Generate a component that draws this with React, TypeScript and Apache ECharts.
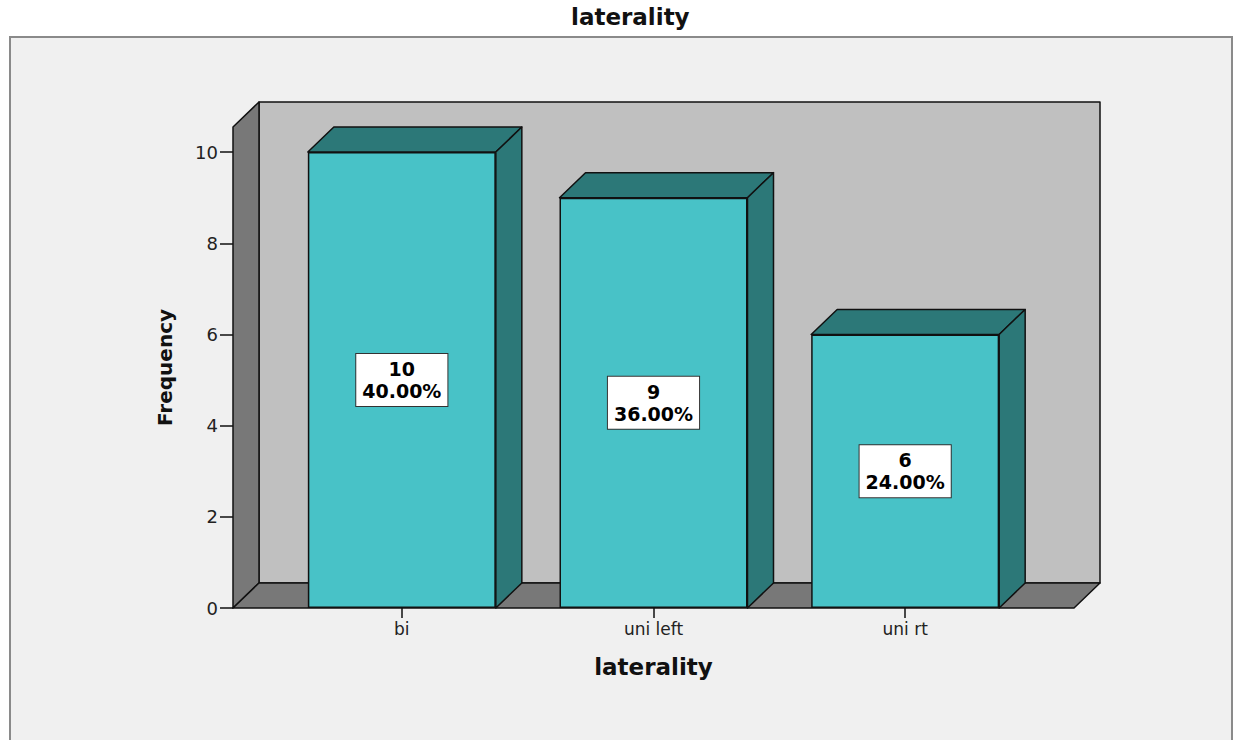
import React, { useEffect, useRef } from "react";
import * as echarts from "echarts";

const categories = ["bi", "uni left", "uni rt"];
const counts = [10, 9, 6];
const percents = [40.0, 36.0, 24.0];
const yTicks = [0, 2, 4, 6, 8, 10];
const Y_MAX = 10.55;

const DX = 26;
const DY = 25;
const PAD = 43;
const BAR_RATIO = 0.747;
const FRONT = "#48c2c7";
const DARK = "#2c7878";
const WALL = "#c0c0c0";
const WALL_DARK = "#787878";
const EDGE = "#111111";
const FONT = "DejaVu Sans";

export default function App() {
  const ref = useRef<HTMLDivElement>(null);
  useEffect(() => {
    if (!ref.current) return;
    const chart = echarts.init(ref.current, null, { renderer: "svg" });
    const option: any = {
      animation: false,
      backgroundColor: "#ffffff",
      title: {
        text: "laterality",
        left: 566,
        top: 0,
        textStyle: { fontFamily: FONT, fontWeight: "bold", fontSize: 23, color: "#111" },
      },
      graphic: [
        {
          type: "rect",
          z: -10,
          shape: { x: 10, y: 37, width: 1222, height: 720 },
          style: { fill: "#f0f0f0", stroke: "#8a8a8a", lineWidth: 2 },
        },
      ],
      grid: { left: 276, right: 208, top: 127, bottom: 132 },
      xAxis: {
        type: "category",
        data: categories,
        axisLine: { show: false },
        axisTick: { show: true, alignWithLabel: true, length: 10, lineStyle: { color: EDGE, width: 1.5 } },
        axisLabel: { fontFamily: FONT, fontSize: 17, color: "#222", margin: 12 },
        name: "laterality",
        nameLocation: "middle",
        nameGap: 47,
        nameTextStyle: { fontFamily: FONT, fontWeight: "bold", fontSize: 23, color: "#111" },
        z: 10,
      },
      yAxis: {
        type: "value",
        min: 0,
        max: Y_MAX,
        offset: PAD,
        splitLine: { show: false },
        axisLine: { show: false },
        axisTick: { show: true, length: 13, customValues: yTicks, lineStyle: { color: EDGE, width: 1.5 } },
        axisLabel: { fontFamily: FONT, fontSize: 18, color: "#222", margin: 15, customValues: yTicks },
        name: "Frequency",
        nameLocation: "middle",
        nameRotate: 90,
        nameGap: 58,
        nameTextStyle: { fontFamily: FONT, fontWeight: "bold", fontSize: 20, color: "#111" },
        z: 10,
      },
      series: [
        {
          type: "custom",
          z: 1,
          clip: false,
          silent: true,
          data: [[0, 0]],
          encode: { x: 0, y: 1 },
          renderItem: (params: any, api: any) => {
            const cs = params.coordSys;
            const y0 = api.coord([0, 0])[1];
            const yTop = api.coord([0, Y_MAX])[1];
            const xl = cs.x - PAD;
            const xr = cs.x + cs.width + PAD;
            const st = { stroke: EDGE, lineWidth: 1.5, lineJoin: "round" };
            return {
              type: "group",
              children: [
                {
                  type: "rect",
                  shape: { x: xl + DX, y: yTop - DY, width: xr - xl, height: y0 - yTop },
                  style: { fill: WALL, ...st },
                },
                {
                  type: "polygon",
                  shape: { points: [[xl, y0], [xl, yTop], [xl + DX, yTop - DY], [xl + DX, y0 - DY]] },
                  style: { fill: WALL_DARK, ...st },
                },
                {
                  type: "polygon",
                  shape: { points: [[xl, y0], [xr, y0], [xr + DX, y0 - DY], [xl + DX, y0 - DY]] },
                  style: { fill: WALL_DARK, ...st },
                },
              ],
            };
          },
        },
        {
          type: "custom",
          z: 2,
          clip: false,
          silent: true,
          data: counts.map((v, i) => [i, v]),
          encode: { x: 0, y: 1 },
          renderItem: (params: any, api: any) => {
            const i = api.value(0);
            const v = api.value(1);
            const top = api.coord([i, v]);
            const bot = api.coord([i, 0]);
            const w = api.size([1, 0])[0] * BAR_RATIO;
            const x0 = top[0] - w / 2;
            const x1 = top[0] + w / 2;
            const st = { stroke: EDGE, lineWidth: 1.5, lineJoin: "round" };
            return {
              type: "group",
              children: [
                {
                  type: "polygon",
                  shape: { points: [[x0, top[1]], [x0 + DX, top[1] - DY], [x1 + DX, top[1] - DY], [x1, top[1]]] },
                  style: { fill: DARK, ...st },
                },
                {
                  type: "polygon",
                  shape: { points: [[x1, top[1]], [x1 + DX, top[1] - DY], [x1 + DX, bot[1] - DY], [x1, bot[1]]] },
                  style: { fill: DARK, ...st },
                },
              ],
            };
          },
        },
        {
          type: "bar",
          z: 3,
          data: counts,
          barWidth: (BAR_RATIO * 100).toFixed(1) + "%",
          itemStyle: { color: FRONT, borderColor: EDGE, borderWidth: 1.5 },
          label: {
            show: true,
            position: "inside",
            formatter: (p: any) => `${counts[p.dataIndex]}\n${percents[p.dataIndex].toFixed(2)}%`,
            fontFamily: FONT,
            fontWeight: "bold",
            fontSize: 19,
            lineHeight: 22,
            color: "#000",
            align: "center",
            backgroundColor: "#ffffff",
            borderColor: "#333",
            borderWidth: 1,
            padding: [5, 6, 3, 6],
          },
        },
      ],
    };
    chart.setOption(option);
    return () => chart.dispose();
  }, []);
  return (
    <div
      ref={ref}
      style={{ position: "fixed", left: 0, top: 0, width: 1239, height: 740, background: "#fff" }}
    />
  );
}
